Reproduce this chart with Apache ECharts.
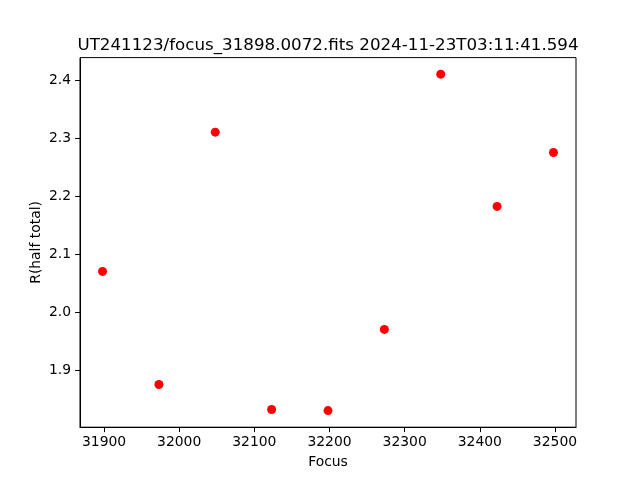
<!DOCTYPE html>
<html>
<head>
<meta charset="utf-8">
<script src="https://cdn.jsdelivr.net/npm/echarts@6/dist/echarts.min.js"></script>
<style>html,body{margin:0;padding:0;background:#fff}#c{width:640px;height:480px}</style>
</head>
<body>
<div id="c"></div>
<script>
var focusValues = [31898, 31973, 32048, 32123, 32198, 32273, 32348, 32423, 32498];
var radiusValues = [2.070, 1.875, 2.310, 1.832, 1.830, 1.970, 2.410, 2.182, 2.275];
var xTicks = [31900, 32000, 32100, 32200, 32300, 32400, 32500];
var yTicks = [1.9, 2.0, 2.1, 2.2, 2.3, 2.4];
var titleText = 'UT241123/focus_31898.0072.fits 2024-11-23T03:11:41.594';

var points = focusValues.map(function (f, i) { return [f, radiusValues[i]]; });
var font = 'DejaVu Sans';
var chart = echarts.init(document.getElementById('c'), null, {renderer: 'canvas'});
chart.setOption({
  animation: false,
  backgroundColor: '#fff',
  title: {
    text: titleText, left: 323, top: 32, textAlign: 'center',
    textStyle: {fontFamily: font, fontSize: 16.7, fontWeight: 'normal', color: '#000'}
  },
  grid: {left: 80, right: 64, top: 57.6, bottom: 52.8, show: true, borderColor: '#000', borderWidth: 1, backgroundColor: 'transparent'},
  xAxis: {
    type: 'value', min: 31868, max: 32528,
    name: 'Focus', nameLocation: 'middle', nameGap: 28, nameMoveOverlap: false,
    nameTextStyle: {fontFamily: font, fontSize: 13.9, color: '#000'},
    axisLine: {show: true, lineStyle: {color: '#000', width: 1}},
    axisTick: {show: true, length: 4.9, customValues: xTicks, lineStyle: {color: '#000'}},
    axisLabel: {customValues: xTicks, margin: 8, fontFamily: font, fontSize: 13.9, color: '#000',
      formatter: function (v) { return String(v); }},
    splitLine: {show: false}
  },
  yAxis: {
    type: 'value', min: 1.8014, max: 2.4386,
    name: 'R(half total)', nameLocation: 'middle', nameGap: 37, nameMoveOverlap: false,
    nameTextStyle: {fontFamily: font, fontSize: 13.9, color: '#000'},
    axisLine: {show: true, lineStyle: {color: '#000', width: 1}},
    axisTick: {show: true, length: 4.9, customValues: yTicks, lineStyle: {color: '#000'}},
    axisLabel: {customValues: yTicks, margin: 9, fontFamily: font, fontSize: 13.9, color: '#000',
      formatter: function (v) { return v.toFixed(1); }},
    splitLine: {show: false}
  },
  series: [{
    type: 'scatter', data: points, symbol: 'circle', symbolSize: 9,
    itemStyle: {color: '#ff0000', opacity: 1}
  }]
});
</script>
</body>
</html>
